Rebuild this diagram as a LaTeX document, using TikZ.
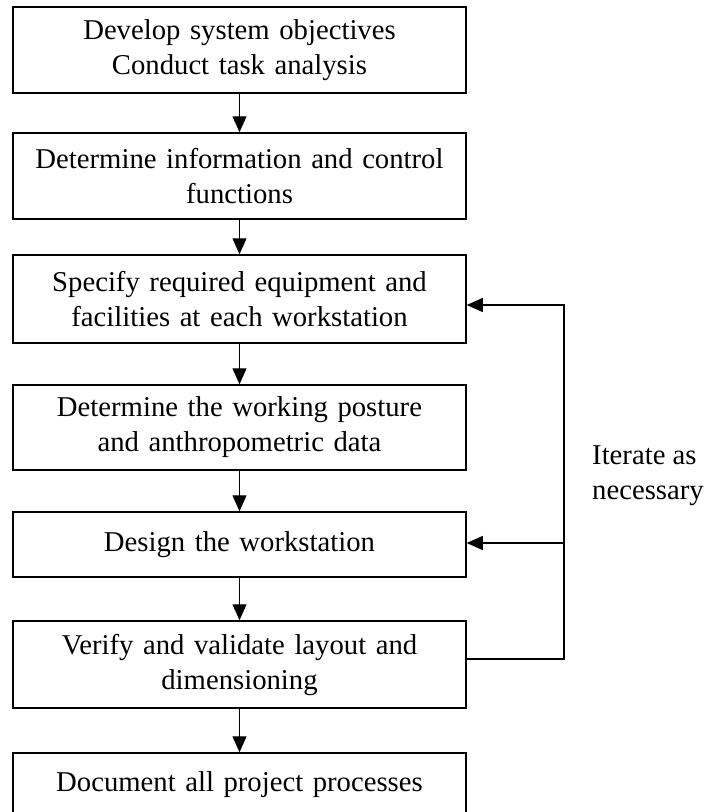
\documentclass[tikz,border=0pt]{standalone}
\usepackage{fontspec}
\setmainfont{Liberation Serif}
\usetikzlibrary{arrows.meta}

\begin{document}
\begin{tikzpicture}[x=1pt,y=-1pt,
  stepbox/.style={draw=black,line width=1.5pt,rectangle,minimum width=453pt,
    text width=445pt,align=center,inner sep=0pt,
    font=\fontsize{28.7}{35}\selectfont},
  flow/.style={line width=1.2pt,-{Triangle[length=16pt,width=14pt]}},
  note/.style={align=left,inner sep=0pt,font=\fontsize{28.7}{35}\selectfont}]
\useasboundingbox[fill=white] (0,0) rectangle (704,812);

% process steps
\node[stepbox,minimum height=86pt] (b1) at (239.5,50)
  {Develop system objectives\\Conduct task analysis};
\node[stepbox,minimum height=86pt] (b2) at (239.5,176)
  {Determine information and control\\functions};
\node[stepbox,minimum height=88pt] (b3) at (239.5,299)
  {Specify required equipment and\\facilities at each workstation};
\node[stepbox,minimum height=85pt] (b4) at (239.5,427.5)
  {Determine the working posture\\and anthropometric data};
\node[stepbox,minimum height=65pt] (b5) at (239.5,544.5)
  {Design the workstation};
\node[stepbox,minimum height=87pt] (b6) at (239.5,664.5)
  {Verify and validate layout and\\dimensioning};
\node[stepbox,minimum height=64pt] (b7) at (239.5,785)
  {Document all project processes};

% main sequence
\draw[flow] (b1) -- (b2);
\draw[flow] (b2) -- (b3);
\draw[flow] (b3) -- (b4);
\draw[flow] (b4) -- (b5);
\draw[flow] (b5) -- (b6);
\draw[flow] (b6) -- (b7);

% iteration loop
\coordinate (loopA) at (564,659);
\coordinate (loopB) at (564,305);
\coordinate (loopC) at (564,543);
\draw[flow] (b6.east |- loopA) -- (loopA) -- (loopB) -- (b3.east |- loopB);
\draw[flow] (loopC) -- (b5.east |- loopC);

\node[note,anchor=west] (iter) at (592,476) {Iterate as\\necessary};
\end{tikzpicture}
\end{document}
